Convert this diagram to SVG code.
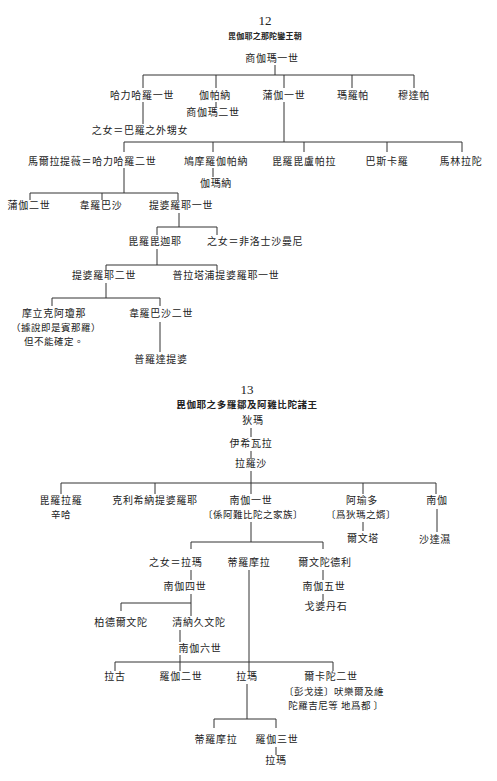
<svg xmlns="http://www.w3.org/2000/svg" width="497" height="781" viewBox="0 0 497 781">
<style>
text{font-family:"Noto Sans CJK TC","Noto Sans CJK SC",sans-serif;fill:#222;font-size:10px;letter-spacing:0.7px;text-anchor:middle}
.num{font-family:"Liberation Serif",serif;font-size:13px;letter-spacing:0}
.t1{font-size:8px;font-weight:bold;letter-spacing:0.2px}
.t2{font-size:9.5px;font-weight:bold;letter-spacing:0.6px}
.st{text-anchor:start}
.ml{font-size:9.5px;letter-spacing:0.5px}
.c path{fill:none;stroke:#333;stroke-width:1}
</style>
<rect width="497" height="781" fill="#fff"/>
<g id="titles">
<text class="num" x="265" y="25">12</text>
<text class="t1" x="265" y="39">毘伽耶之那陀鑾王朝</text>
<text class="num" x="247" y="394">13</text>
<text class="t2" x="247" y="408">毘伽耶之多羅鄒及阿雞比陀諸王</text>
</g>
<g class="c" id="connectors">
<path d="M275 65V75M143 75H414M143 75V88M216 75V88M284 75V88M352 75V88M414 75V88"/>
<path d="M216 102V107"/>
<path d="M143 102V124"/>
<path d="M284 102V142M124 142H462M124 142V152M213 142V152M304 142V152M387 142V152M462 142V152"/>
<path d="M213 168V177"/>
<path d="M124 168V193M30 193H178M30 193V200M102 193V200M178 193V200"/>
<path d="M179 213V227M157 227H217M157 227V235M217 227V235"/>
<path d="M157 249V265M106 265H217M106 265V270M217 265V270"/>
<path d="M106 283V298M52 298H160M52 298V306M160 298V306"/>
<path d="M160 322V352"/>
<path d="M251 428V437"/>
<path d="M251 451V458"/>
<path d="M251 471V494M61 483H436M61 483V494M155 483V494M363 483V494M436 483V494"/>
<path d="M437 509V532"/>
<path d="M363 522V531"/>
<path d="M251 522V542M191 542H323M191 542V549M323 542V549"/>
<path d="M191 570V580"/>
<path d="M323 570V580"/>
<path d="M323 594V601"/>
<path d="M191 594V616M121 603H191M121 603V611"/>
<path d="M180 630V642"/>
<path d="M180 655V671M249 570V671M115 662H333M115 662V671M333 662V671"/>
<path d="M247 684V719M214 719H276M214 719V728M276 719V728"/>
<path d="M276 747V755"/>
</g>
<g id="n-sangama1"><text x="272" y="62">商伽瑪一世</text></g>
<g id="n-harihara1"><text x="142" y="99">哈力哈羅一世</text></g>
<g id="n-kampana"><text x="215" y="99">伽帕納</text></g>
<g id="n-bukka1"><text x="284" y="99">蒲伽一世</text></g>
<g id="n-marappa"><text x="353" y="99">瑪羅帕</text></g>
<g id="n-muddappa"><text x="414" y="99">穆達帕</text></g>
<g id="n-sangama2"><text x="213" y="116">商伽瑪二世</text></g>
<g id="n-daughter1"><text x="140" y="134">之女＝巴羅之外甥女</text></g>
<g id="n-harihara2"><text class="st" x="28" y="165">馬爾拉提薇＝哈力哈羅二世</text></g>
<g id="n-kumara"><text x="216" y="165">鳩摩羅伽帕納</text></g>
<g id="n-virupanna"><text x="304" y="165">毘羅毘盧帕拉</text></g>
<g id="n-bhaskara"><text x="387" y="165">巴斯卡羅</text></g>
<g id="n-mallinatha"><text x="461" y="165">馬林拉陀</text></g>
<g id="n-jommanna"><text x="216" y="187">伽瑪納</text></g>
<g id="n-bukka2"><text x="29" y="209">蒲伽二世</text></g>
<g id="n-virupaksha1"><text x="101" y="209">韋羅巴沙</text></g>
<g id="n-devaraya1"><text x="181" y="209">提婆羅耶一世</text></g>
<g id="n-vijaya"><text x="155" y="245">毘羅毘迦耶</text></g>
<g id="n-daughter2"><text class="st" x="207" y="245">之女＝非洛士沙曼尼</text></g>
<g id="n-devaraya2"><text x="104" y="279">提婆羅耶二世</text></g>
<g id="n-pratapa"><text x="226" y="279">普拉塔浦提婆羅耶一世</text></g>
<g id="n-mallikarjuna"><text x="54" y="317">摩立克阿瓊那</text><text class="ml" x="56" y="331">（據說即是賓那羅）</text><text class="ml" x="54" y="345">但不能確定。</text></g>
<g id="n-virupaksha2"><text x="161" y="317">韋羅巴沙二世</text></g>
<g id="n-praudha"><text x="161" y="363">普羅達提婆</text></g>
<g id="n-timma"><text x="253" y="424">狄瑪</text></g>
<g id="n-ishvara"><text x="251" y="447">伊希瓦拉</text></g>
<g id="n-narasa"><text x="251" y="467">拉羅沙</text></g>
<g id="n-narasimha"><text x="61" y="504">毘羅拉羅</text><text class="ml" x="61" y="518">辛哈</text></g>
<g id="n-krishna"><text x="155" y="504">克利希納提婆羅耶</text></g>
<g id="n-ranga1"><text x="251" y="504">南伽一世</text><text class="ml" x="253" y="518">〔係阿難比陀之家族〕</text></g>
<g id="n-achyuta"><text x="362" y="504">阿瑜多</text><text class="ml" x="361" y="518">〔爲狄瑪之婿〕</text></g>
<g id="n-ranga"><text x="437" y="504">南伽</text></g>
<g id="n-venkata"><text x="363" y="542">爾文塔</text></g>
<g id="n-sadashiva"><text x="435" y="543">沙達濕</text></g>
<g id="n-rama"><text class="st" x="149" y="566">之女＝拉瑪</text></g>
<g id="n-tirumala1"><text x="249" y="566">蒂羅摩拉</text></g>
<g id="n-venkatadri"><text x="325" y="566">爾文陀德利</text></g>
<g id="n-ranga4"><text x="185" y="590">南伽四世</text></g>
<g id="n-ranga5"><text x="324" y="590">南伽五世</text></g>
<g id="n-godavari"><text x="326" y="610">戈婆丹石</text></g>
<g id="n-pedda"><text x="121" y="626">柏德爾文陀</text></g>
<g id="n-chinna"><text x="199" y="626">清納久文陀</text></g>
<g id="n-ranga6"><text x="200" y="652">南伽六世</text></g>
<g id="n-raghu"><text x="115" y="680">拉古</text></g>
<g id="n-ranga2"><text x="181" y="680">羅伽二世</text></g>
<g id="n-rama2"><text x="247" y="680">拉瑪</text></g>
<g id="n-venkata2"><text x="331" y="680">爾卡陀二世</text><text class="ml" x="334" y="695">〔彭戈達〕吠樂爾及維</text><text class="ml" x="336" y="709">陀羅吉尼等 地爲都 〕</text></g>
<g id="n-tirumala2"><text x="216" y="743">蒂羅摩拉</text></g>
<g id="n-ranga3"><text x="277" y="743">羅伽三世</text></g>
<g id="n-rama3"><text x="276" y="764">拉瑪</text></g>
</svg>
